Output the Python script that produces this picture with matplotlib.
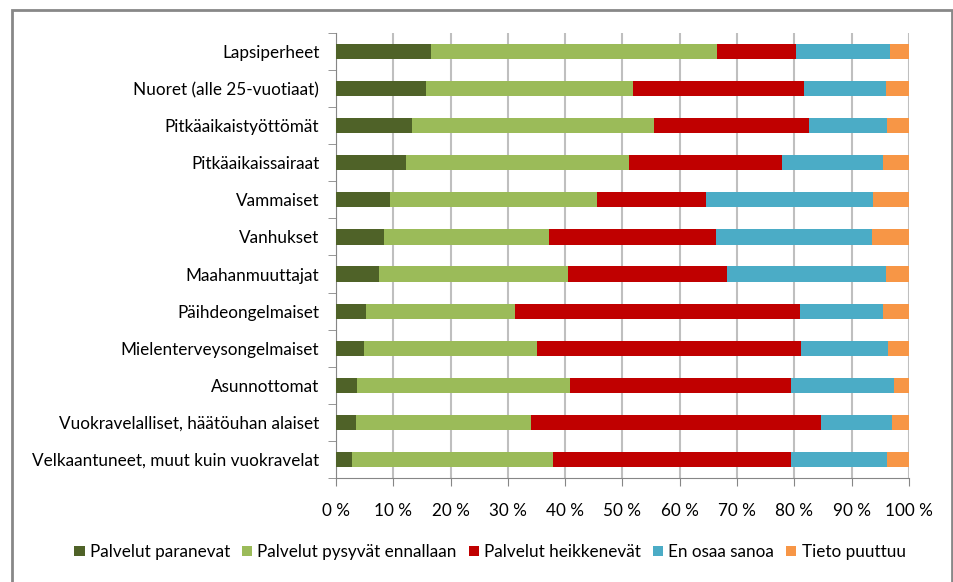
import numpy as np
import matplotlib.pyplot as plt
from matplotlib.patches import Rectangle

plt.rcParams['font.family'] = ['Lato', 'DejaVu Sans']
plt.rcParams['font.size'] = 12.3

ryhmat = ['Lapsiperheet', 'Nuoret (alle 25-vuotiaat)', 'Pitkäaikaistyöttömät',
          'Pitkäaikaissairaat', 'Vammaiset', 'Vanhukset', 'Maahanmuuttajat',
          'Päihdeongelmaiset', 'Mielenterveysongelmaiset', 'Asunnottomat',
          'Vuokravelalliset, häätöuhan alaiset', 'Velkaantuneet, muut kuin vuokravelat']

paranevat = [16.5, 15.7, 13.2, 12.2, 9.5, 8.3, 7.5, 5.2, 4.8, 3.6, 3.5, 2.8]
pysyvat = [50.0, 36.1, 42.3, 38.9, 36.0, 28.9, 33.0, 26.1, 30.2, 37.2, 30.5, 35.1]
heikkenevat = [13.8, 29.8, 27.0, 26.7, 19.0, 29.2, 27.7, 49.7, 46.2, 38.6, 50.6, 41.5]
en_osaa = [16.3, 14.4, 13.7, 17.7, 29.2, 27.1, 27.8, 14.5, 15.1, 17.9, 12.5, 16.8]
puuttuu = [3.4, 4.0, 3.8, 4.5, 6.3, 6.5, 4.0, 4.5, 3.7, 2.7, 2.9, 3.8]

sarjat = [('Palvelut paranevat', paranevat, '#4F6228'),
          ('Palvelut pysyvät ennallaan', pysyvat, '#9BBB59'),
          ('Palvelut heikkenevät', heikkenevat, '#C00000'),
          ('En osaa sanoa', en_osaa, '#4BACC6'),
          ('Tieto puuttuu', puuttuu, '#F79646')]

fig = plt.figure(figsize=(9.54, 5.82), dpi=100)
ax = fig.add_axes([336/954, 1-478/582, 573/954, 445/582])

y = np.arange(len(ryhmat))
left = np.zeros(len(ryhmat))
for nimi, arvot, vari in sarjat:
    arvot = np.array(arvot)
    ax.barh(y, arvot, left=left, height=0.41, color=vari, label=nimi, zorder=3)
    left = left + arvot

ax.set_ylim(len(ryhmat) - 0.5, -0.5)
ax.set_xlim(0, 100)
ax.set_yticks(y)
ax.set_yticklabels(ryhmat)
ax.set_yticks(np.arange(-0.5, len(ryhmat)), minor=True)
ax.tick_params(axis='y', which='major', length=0, pad=12)
ax.tick_params(axis='y', which='minor', length=6, color='#868686')
ax.set_xticks(np.arange(0, 101, 10))
ax.set_xticklabels([str(v) + ' %' for v in range(0, 101, 10)])
ax.tick_params(axis='x', length=6, color='#868686', pad=12)
ax.grid(axis='x', color='#BFBFBF', linewidth=1.5, zorder=0)
for s in ['top', 'right']:
    ax.spines[s].set_visible(False)
for s in ['left', 'bottom']:
    ax.spines[s].set_color('#868686')

ax.legend(loc='center', bbox_to_anchor=(490/954, 1-552/582), bbox_transform=fig.transFigure,
          ncol=5, frameon=False, handlelength=0.6, handleheight=0.6, handletextpad=0.3,
          columnspacing=0.7)

fig.patches.append(Rectangle((12/954, -0.05), 940/954, 1.05 - 10/582, transform=fig.transFigure,
                             fill=False, edgecolor='#888888', linewidth=2))

fig.savefig('out.png', dpi=100)
